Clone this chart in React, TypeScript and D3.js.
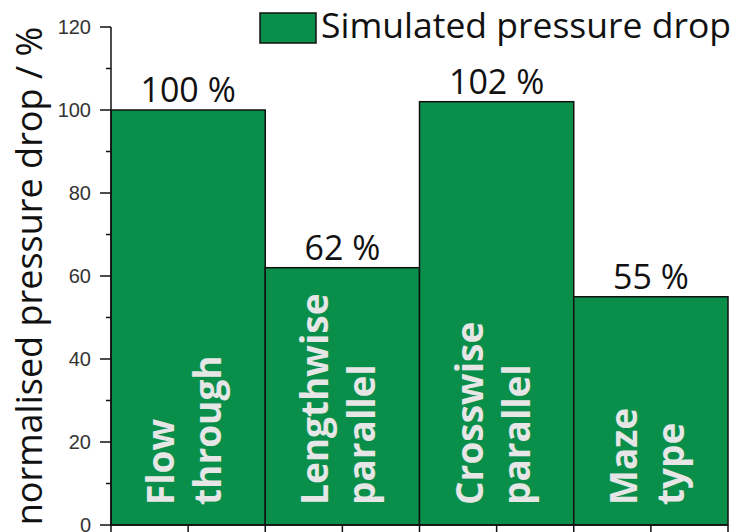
import * as d3 from 'd3';

const categories = ['Flow through', 'Lengthwise parallel', 'Crosswise parallel', 'Maze type'];
const labelLines = [
  ['Flow', 'through'],
  ['Lengthwise', 'parallel'],
  ['Crosswise', 'parallel'],
  ['Maze', 'type'],
];
const values = [100, 62, 102, 55];
const valueLabels = ['100 %', '62 %', '102 %', '55 %'];
const majorTicks = [0, 20, 40, 60, 80, 100, 120];
const minorTicks = [10, 30, 50, 70, 90, 110];
const legendLabel = 'Simulated pressure drop';
const yTitle = 'normalised pressure drop / %';

const W = 733;
const H = 532;
const green = '#0a8f4b';
const humanist = "'Open Sans', 'Noto Sans', sans-serif";

export default function App() {
  const x = d3.scaleBand<string>().domain(categories).range([111, 728]).padding(0);
  const y = d3.scaleLinear().domain([0, 120]).range([525, 27]);
  const bw = x.bandwidth();

  const xTicks: number[] = [];
  categories.forEach((c) => {
    const x0 = x(c) ?? 0;
    xTicks.push(x0, x0 + bw / 2);
  });
  xTicks.push((x(categories[categories.length - 1]) ?? 0) + bw);

  return (
    <div style={{ position: 'absolute', left: 0, top: 0 }}>
      <svg width={W} height={H} style={{ display: 'block', background: '#fff' }}>
        {/* bars */}
        {categories.map((c, i) => (
          <rect
            key={c}
            x={x(c)}
            y={y(values[i])}
            width={bw}
            height={y(0) - y(values[i])}
            fill={green}
            stroke="#111"
            strokeWidth={1.5}
          />
        ))}

        {/* value labels */}
        {categories.map((c, i) => (
          <text
            key={c + '-v'}
            x={(x(c) ?? 0) + bw / 2}
            y={y(values[i]) - 8}
            textAnchor="middle"
            fontFamily={humanist}
            fontSize={34}
            fill="#111"
          >
            {valueLabels[i]}
          </text>
        ))}

        {/* rotated category labels inside bars */}
        {categories.map((c, i) => {
          const cx = (x(c) ?? 0) + bw / 2;
          return (
            <g key={c + '-l'}>
              {labelLines[i].map((line, j) => {
                const bx = cx + (j === 0 ? -14 : 33);
                return (
                  <text
                    key={line}
                    transform={`translate(${bx},505) rotate(-90)`}
                    fontFamily={humanist}
                    fontWeight={700}
                    fontSize={37}
                    fill="#e6e6e6"
                  >
                    {line}
                  </text>
                );
              })}
            </g>
          );
        })}

        {/* y axis */}
        <line x1={111} x2={111} y1={y(120)} y2={y(0)} stroke="#111" strokeWidth={1.5} />
        {majorTicks.map((t) => (
          <g key={'M' + t}>
            <line x1={100} x2={111} y1={y(t)} y2={y(t)} stroke="#111" strokeWidth={1.5} />
            <text
              x={91}
              y={y(t)}
              dy="0.36em"
              textAnchor="end"
              fontFamily="'Liberation Sans', Arial, sans-serif"
              fontSize={20}
              fill="#333"
            >
              {t}
            </text>
          </g>
        ))}
        {minorTicks.map((t) => (
          <line key={'m' + t} x1={106} x2={111} y1={y(t)} y2={y(t)} stroke="#111" strokeWidth={1.5} />
        ))}

        {/* x axis */}
        <line x1={111} x2={728} y1={y(0)} y2={y(0)} stroke="#111" strokeWidth={1.5} />
        {xTicks.map((t, i) => (
          <line key={'x' + i} x1={t} x2={t} y1={y(0)} y2={y(0) + 10} stroke="#111" strokeWidth={1.5} />
        ))}

        {/* y title */}
        <text
          transform={`translate(42,${(y(0) + y(120)) / 2}) rotate(-90)`}
          textAnchor="middle"
          fontFamily={humanist}
          fontSize={36}
          fill="#111"
        >
          {yTitle}
        </text>

        {/* legend */}
        <rect x={260} y={13} width={56} height={30} fill={green} stroke="#111" strokeWidth={1.5} />
        <text x={321} y={38} fontFamily={humanist} fontSize={35.5} fill="#111">
          {legendLabel}
        </text>
      </svg>
    </div>
  );
}
